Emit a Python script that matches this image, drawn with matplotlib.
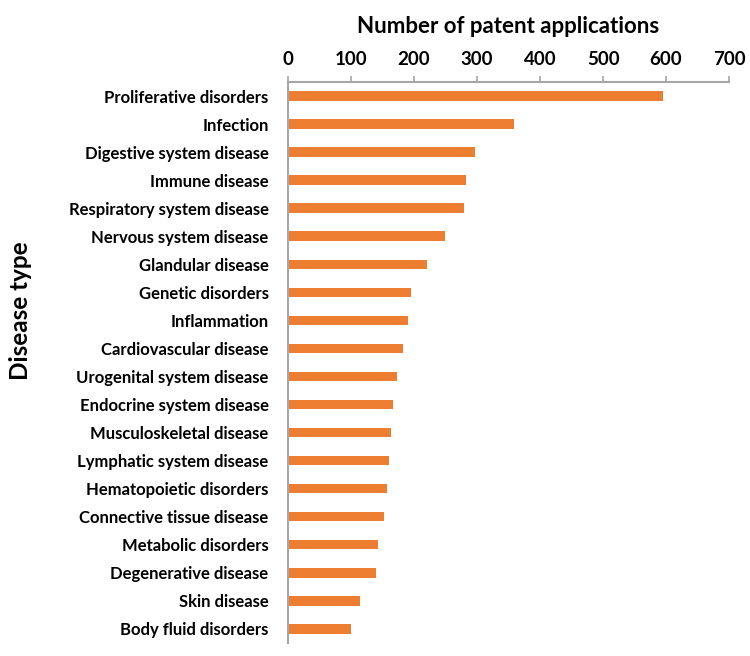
import numpy as np
import matplotlib.pyplot as plt

diseases = ['Proliferative disorders', 'Infection', 'Digestive system disease',
            'Immune disease', 'Respiratory system disease', 'Nervous system disease',
            'Glandular disease', 'Genetic disorders', 'Inflammation',
            'Cardiovascular disease', 'Urogenital system disease',
            'Endocrine system disease', 'Musculoskeletal disease',
            'Lymphatic system disease', 'Hematopoietic disorders',
            'Connective tissue disease', 'Metabolic disorders',
            'Degenerative disease', 'Skin disease', 'Body fluid disorders']
counts = [595, 359, 297, 282, 280, 249, 221, 195, 190, 182,
          173, 167, 163, 161, 157, 152, 143, 139, 115, 100]
xticks = [0, 100, 200, 300, 400, 500, 600, 700]

plt.rcParams['font.family'] = ['Lato', 'DejaVu Sans']

fig = plt.figure(figsize=(7.5, 6.56), dpi=100)
ax = fig.add_axes([0.384, 0.02, 0.588, 0.855])

y = np.arange(len(diseases))
ax.barh(y, counts, height=0.34, color='#ED7D31')
ax.set_ylim(len(diseases) - 0.5, -0.5)
ax.set_xlim(0, 700)
ax.set_xticks(xticks)

ax.xaxis.tick_top()
ax.xaxis.set_label_position('top')
ax.set_xlabel('Number of patent applications', fontsize=16, fontweight='bold', labelpad=13)
ax.set_ylabel('Disease type', fontsize=17.5, fontweight='bold')
ax.yaxis.set_label_coords(-0.58, 0.593)

ax.set_yticks(y)
ax.set_yticklabels(diseases, fontsize=12, fontweight='bold')
for lbl in ax.get_xticklabels():
    lbl.set_fontsize(13.5)
    lbl.set_fontweight('bold')

for s in ['right', 'bottom']:
    ax.spines[s].set_visible(False)
for s in ['top', 'left']:
    ax.spines[s].set_color('#A6A6A6')
    ax.spines[s].set_linewidth(1.5)
ax.tick_params(axis='x', color='#A6A6A6', width=1.2, length=4, pad=6)
ax.tick_params(axis='y', length=0, pad=14)

plt.savefig('out.png')
